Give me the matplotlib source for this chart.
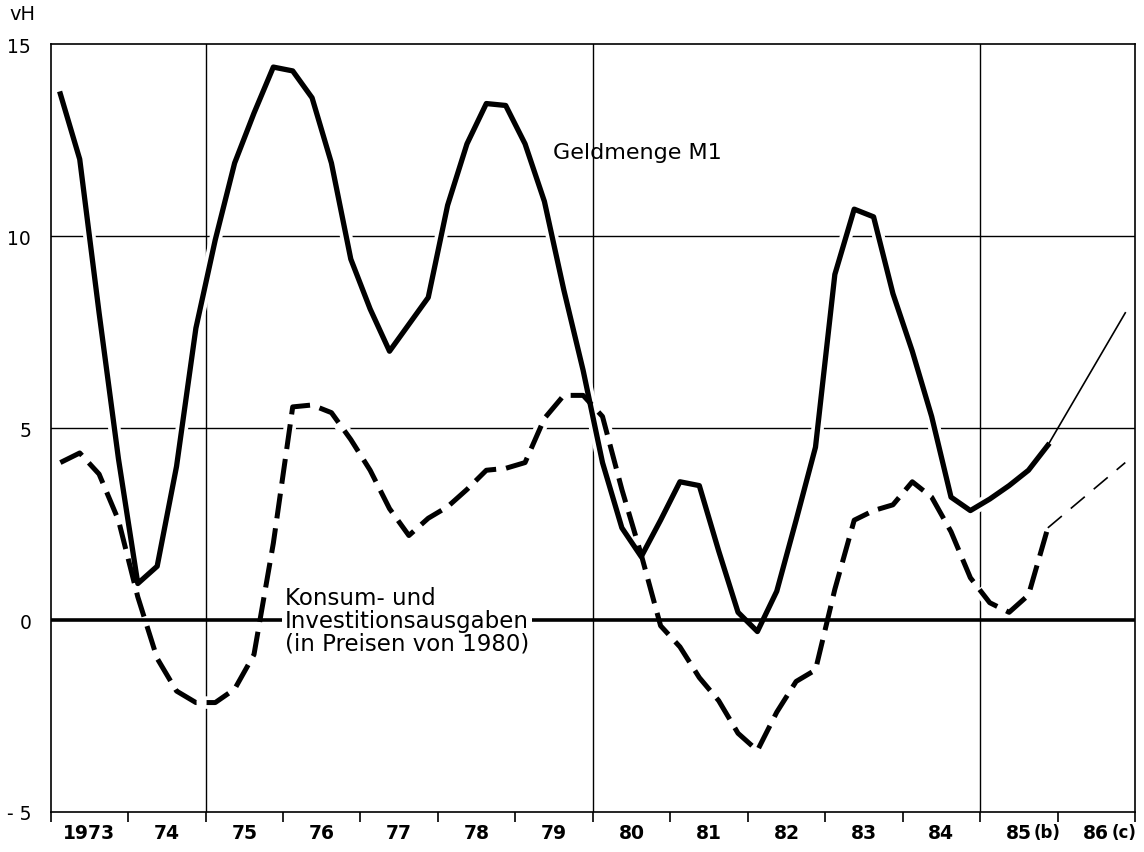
import numpy as np
import matplotlib.pyplot as plt

# Quartalswerte 1973 Q1 - 1985 Q4, Veraenderung gegenueber Vorjahr in vH
jahre = ['1973', '74', '75', '76', '77', '78', '79', '80', '81', '82', '83', '84', '85', '86']
geldmenge = [13.7, 12.0, 8.0, 4.2,
             0.95, 1.4, 4.0, 7.6,
             9.9, 11.9, 13.2, 14.4,
             14.3, 13.6, 11.9, 9.4,
             8.1, 7.0, 7.7, 8.4,
             10.8, 12.4, 13.45, 13.4,
             12.4, 10.9, 8.6, 6.5,
             4.1, 2.4, 1.65, 2.6,
             3.6, 3.5, 1.8, 0.2,
             -0.3, 0.75, 2.6, 4.5,
             9.0, 10.7, 10.5, 8.5,
             7.0, 5.3, 3.2, 2.85,
             3.15, 3.5, 3.9, 4.55]
ausgaben = [4.1, 4.35, 3.8, 2.6,
            0.6, -1.0, -1.85, -2.15,
            -2.15, -1.8, -0.9, 2.0,
            5.55, 5.6, 5.4, 4.7,
            3.9, 2.9, 2.2, 2.65,
            2.95, 3.4, 3.9, 3.95,
            4.1, 5.25, 5.85, 5.85,
            5.3, 3.4, 1.7, -0.15,
            -0.7, -1.5, -2.1, -2.95,
            -3.4, -2.4, -1.6, -1.3,
            0.8, 2.6, 2.85, 3.0,
            3.6, 3.2, 2.3, 1.1,
            0.45, 0.2, 0.65, 2.4]
# Prognose 1986
prognose_x = 1986.875
geldmenge_86 = 8.0
ausgaben_86 = 4.1

t = 1973 + (np.arange(len(geldmenge)) + 0.5) / 4

fig = plt.figure(figsize=(11.44, 8.53), dpi=100)
ax = fig.add_axes([0.0443, 0.0469, 0.9478, 0.9003])

# Gitter
for y in [5, 10]:
    ax.axhline(y, color='black', lw=1.0, zorder=1)
for x in [1975, 1980, 1985]:
    ax.axvline(x, color='black', lw=1.0, zorder=1)

# weisse Aussparung der Gitterlinien an den Kurven
ax.plot(t, ausgaben, color='white', lw=9, dashes=(2.2, 0.5), zorder=2)
ax.plot(t, geldmenge, color='white', lw=9, zorder=2)
ax.axhline(0, color='black', lw=2.6, zorder=2.5)

ax.plot(t, ausgaben, color='black', lw=3.6, dashes=(5, 2.0), zorder=3)
ax.plot([t[-1], prognose_x], [ausgaben[-1], ausgaben_86], color='black',
        lw=1.2, dashes=(11, 7), zorder=3)
ax.plot(t, geldmenge, color='black', lw=3.8, zorder=3)
ax.plot([t[-1], prognose_x], [geldmenge[-1], geldmenge_86], color='black',
        lw=1.2, zorder=3)

ax.text(1979.48, 12.2, 'Geldmenge M1', fontsize=16, va='center', ha='left', zorder=6)
ax.text(1976.02, 0.0, 'Konsum- und\nInvestitionsausgaben\n(in Preisen von 1980)',
        fontsize=16.5, va='center', ha='left', linespacing=1.0, zorder=6,
        bbox=dict(facecolor='white', edgecolor='none', pad=2))

ax.set_xlim(1973, 1987)
ax.set_ylim(-5, 15)

ax.set_xticks(np.arange(1973, 1988))
ax.set_xticklabels([])
ax.tick_params(axis='x', which='major', direction='out', length=7, width=1.2)
ax.set_xticks(np.arange(1973, 1987) + 0.5, minor=True)
ax.set_xticklabels(jahre, minor=True, fontsize=13.5, fontweight='bold')
ax.tick_params(axis='x', which='minor', length=0, pad=8)
for x, s in [(1985.5, '(b)'), (1986.5, '(c)')]:
    ax.annotate(s, (x, 0), xycoords=('data', 'axes fraction'), xytext=(11, -8),
                textcoords='offset points', fontsize=12, fontweight='bold',
                ha='left', va='top')

ax.set_yticks([-5, 0, 5, 10, 15])
ax.set_yticklabels(['- 5', '0', '5', '10', '15'], fontsize=13.5)
ax.tick_params(axis='y', length=0, pad=14)
ax.text(-0.038, 1.04, 'vH', transform=ax.transAxes, fontsize=14, ha='left', va='center')

for s in ax.spines.values():
    s.set_linewidth(1.2)

fig.savefig('out.png', dpi=100)
